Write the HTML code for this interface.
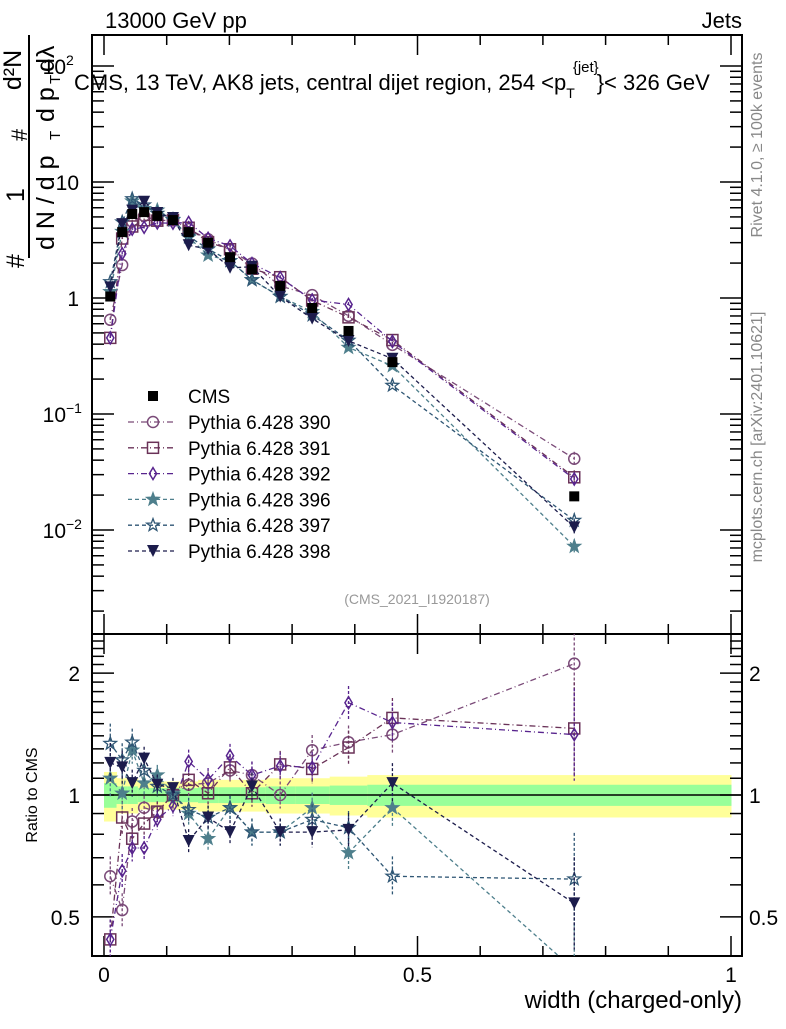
<!DOCTYPE html>
<html><head><meta charset="utf-8"><style>
body{margin:0;background:#fff;}
svg{font-family:"Liberation Sans",sans-serif;}
</style></head><body>
<svg id="c" width="786" height="1024" xmlns="http://www.w3.org/2000/svg"></svg>
<script>
const xs=[0.01,0.029,0.045,0.064,0.085,0.11,0.135,0.166,0.201,0.236,0.281,0.332,0.39,0.46,0.75];
const cms=[1.03,3.7,5.3,5.5,5.1,4.7,3.7,3.0,2.25,1.77,1.27,0.82,0.52,0.28,0.0195];
const cmsErr=[0.07,0.05,0.05,0.04,0.04,0.04,0.04,0.045,0.045,0.045,0.05,0.05,0.055,0.06,0.06];
const r390=[0.63,0.52,0.86,0.93,0.91,1.0,1.06,1.07,1.15,1.12,1.0,1.29,1.35,1.41,2.11];
const r391=[0.44,0.88,0.78,0.85,0.91,1.0,1.09,1.01,1.17,1.01,1.19,1.16,1.31,1.55,1.46];
const r392=[0.44,0.65,0.74,0.74,0.87,0.94,1.21,1.09,1.25,1.12,1.18,1.17,1.69,1.51,1.41];
const r396=[1.1,1.01,1.29,1.07,1.12,1.01,0.90,0.78,0.93,0.81,0.81,0.93,0.72,0.93,0.37];
const r397=[1.34,1.22,1.35,1.15,1.05,1.0,0.92,0.88,0.93,0.81,0.81,0.87,0.83,0.63,0.62];
const r398=[1.2,1.17,1.07,1.23,1.06,1.04,0.77,0.88,0.81,1.05,0.81,0.81,0.82,1.07,0.54];
const rErr=[0.12,0.1,0.08,0.07,0.06,0.06,0.07,0.07,0.07,0.08,0.08,0.09,0.1,0.12,0.3];
const series=[
 {n:'390',r:r390,c:'#7a4a78',m:'circle',d:'6,3,1,3'},
 {n:'391',r:r391,c:'#6a3258',m:'square',d:'6,3,1,3'},
 {n:'392',r:r392,c:'#58248e',m:'diamond',d:'6,3,1,3'},
 {n:'396',r:r396,c:'#4e7f8c',m:'starF',d:'4,3'},
 {n:'397',r:r397,c:'#2f5674',m:'starO',d:'4,3'},
 {n:'398',r:r398,c:'#1c1c4c',m:'tri',d:'4,3'}];
const svg=document.getElementById('c');const NS='http://www.w3.org/2000/svg';
function el(t,a,p){const e=document.createElementNS(NS,t);for(const k in a)e.setAttribute(k,a[k]);(p||svg).appendChild(e);return e;}
const X=v=>104+v*627;
const Y=v=>298-Math.log10(v)*116;
const R=v=>795-Math.log10(v)*405;
const L=92,Rt=742,T=35,M=634,B=956;
const defs=el('defs',{});
const cp1=el('clipPath',{id:'cm'},defs);el('rect',{x:L,y:T,width:Rt-L,height:M-T},cp1);
const cp2=el('clipPath',{id:'cr'},defs);el('rect',{x:L,y:M,width:Rt-L,height:B-M},cp2);
const gb=el('g',{'clip-path':'url(#cr)'});

const edges=[0,0.02,0.038,0.054,0.074,0.096,0.122,0.15,0.183,0.218,0.258,0.305,0.36,0.42,0.5,1.0];
for(let i=0;i<xs.length;i++){const x0=X(edges[i]),x1=X(edges[i+1]);const e=cmsErr[i];
 el('rect',{x:x0,y:R(1+e*2),width:x1-x0+0.5,height:R(1-e*2)-R(1+e*2),fill:'#ffff99'},gb);
 el('rect',{x:x0,y:R(1+e),width:x1-x0+0.5,height:R(1-e)-R(1+e),fill:'#99ff99'},gb);}
el('line',{x1:L,x2:Rt,y1:R(1),y2:R(1),stroke:'#000','stroke-width':1.5});
el('rect',{x:L,y:T,width:Rt-L,height:M-T,fill:'none',stroke:'#000','stroke-width':2});
el('rect',{x:L,y:M,width:Rt-L,height:B-M,fill:'none',stroke:'#000','stroke-width':2});
for(let d=-3;d<=2;d++)for(let k=1;k<10;k++){const v=k*Math.pow(10,d);const y=Y(v);if(y<T||y>M)continue;const len=k==1?22:12;
 el('line',{x1:L,x2:L+len,y1:y,y2:y,stroke:'#000','stroke-width':1.5});el('line',{x1:Rt,x2:Rt-len,y1:y,y2:y,stroke:'#000','stroke-width':1.5});}
const ylabs=[[100,'10','2'],[10,'10',''],[1,'1',''],[0.1,'10','−1'],[0.01,'10','−2']];
ylabs.forEach(l=>{const t=el('text',{x:l[2]?66:79,y:Y(l[0])+8,'text-anchor':'end','font-size':21});t.textContent=l[1];
 
 if(l[2]){const s=el('text',{x:66,y:Y(l[0])-1,'font-size':14});s.textContent=l[2];}});
for(let v=0.4;v<=2.5;v+=0.1){const y=R(v);if(y<M||y>B)continue;const maj=Math.abs(v-0.5)<1e-6||Math.abs(v-1)<1e-6||Math.abs(v-2)<1e-6;const len=maj?22:12;
 el('line',{x1:L,x2:L+len,y1:y,y2:y,stroke:'#000','stroke-width':1.5});el('line',{x1:Rt,x2:Rt-len,y1:y,y2:y,stroke:'#000','stroke-width':1.5});}
[[2,'2'],[1,'1'],[0.5,'0.5']].forEach(l=>{let t=el('text',{x:80,y:R(l[0])+8,'text-anchor':'end','font-size':21});t.textContent=l[1];
 t=el('text',{x:749,y:R(l[0])+8,'font-size':21});t.textContent=l[1];});
for(let i=0;i<=10;i++){const x=X(i/10);const len=i%5==0?20:10;
 [[T,1],[M,1],[M,-1],[B,-1]].forEach(p=>el('line',{x1:x,x2:x,y1:p[0],y2:p[0]+p[1]*len,stroke:'#000','stroke-width':1.5}));}
[[0,'0'],[0.5,'0.5'],[1,'1']].forEach(l=>{const t=el('text',{x:X(l[0]),y:982,'text-anchor':'middle','font-size':21});t.textContent=l[1];
 });
function marker(g,type,x,y,c,s){s=s||6;
 if(type=='circle')el('circle',{cx:x,cy:y,r:s-0.5,fill:'none',stroke:c,'stroke-width':1.5},g);
 else if(type=='square')el('rect',{x:x-s+0.5,y:y-s+0.5,width:2*s-1,height:2*s-1,fill:'none',stroke:c,'stroke-width':1.5},g);
 else if(type=='sqF')el('rect',{x:x-s,y:y-s,width:2*s,height:2*s,fill:c},g);
 else if(type=='diamond')el('polygon',{points:`${x},${y-s} ${x+s*0.6},${y} ${x},${y+s} ${x-s*0.6},${y}`,fill:'none',stroke:c,'stroke-width':1.5},g);
 else if(type=='tri')el('polygon',{points:`${x-s},${y-s} ${x+s},${y-s} ${x},${y+s}`,fill:c},g);
 else{let p=[];for(let i=0;i<10;i++){const a=-Math.PI/2+i*Math.PI/5;const rr=i%2?s*0.45:s*1.1;p.push((x+rr*Math.cos(a)).toFixed(1)+','+(y+rr*Math.sin(a)).toFixed(1));}
  el('polygon',{points:p.join(' '),fill:type=='starF'?c:'none',stroke:c,'stroke-width':1.3},g);}}
series.forEach(s=>{
 const gm=el('g',{'clip-path':'url(#cm)'});
 const gr=el('g',{'clip-path':'url(#cr)'});
 const pm=xs.map((x,i)=>X(x)+','+Y(cms[i]*s.r[i]).toFixed(1)).join(' ');
 const pr=xs.map((x,i)=>X(x)+','+R(s.r[i]).toFixed(1)).join(' ');
 el('polyline',{points:pm,fill:'none',stroke:s.c,'stroke-width':1.3,'stroke-dasharray':s.d},gm);
 el('polyline',{points:pr,fill:'none',stroke:s.c,'stroke-width':1.3,'stroke-dasharray':s.d},gr);
 xs.forEach((x,i)=>{const v=cms[i]*s.r[i];
  el('line',{x1:X(x),x2:X(x),y1:Y(v*(1+rErr[i]*0.5)),y2:Y(v/(1+rErr[i]*0.5)),stroke:s.c,'stroke-width':1.3,'stroke-dasharray':'3,2'},gm);
  el('line',{x1:X(x),x2:X(x),y1:R(s.r[i]*(1+rErr[i])),y2:R(s.r[i]/(1+rErr[i])),stroke:s.c,'stroke-width':1.3,'stroke-dasharray':'3,2'},gr);
  marker(gm,s.m,X(x),Y(v),s.c,6);marker(gr,s.m,X(x),R(s.r[i]),s.c,6);});
});
const gc=el('g',{'clip-path':'url(#cm)'});
xs.forEach((x,i)=>{marker(gc,'sqF',X(x),Y(cms[i]),'#000',5);});
const leg=el('g',{});
marker(leg,'sqF',153,396,'#000',5);
let t=el('text',{x:188,y:403,'font-size':19},leg);t.textContent='CMS';
series.forEach((s,i)=>{const y=422+i*25.8;
 const e=el('g',{},leg);
 el('line',{x1:128,x2:176,y1:y,y2:y,stroke:s.c,'stroke-width':1.3,'stroke-dasharray':s.d},e);
 marker(e,s.m,153,y,s.c,6);
 const tt=el('text',{x:188,y:y+7,'font-size':19},e);tt.textContent='Pythia 6.428 '+s.n;});
function txt(x,y,s,size,name,extra){const a=Object.assign({x:x,y:y,'font-size':size},extra||{});const e=el('text',a);e.textContent=s;return e;}
txt(105,28,'13000 GeV pp',22,'energy-label');
txt(742,28,'Jets',22,'jets-label',{'text-anchor':'end'});
const title=el('text',{x:74,y:90,'font-size':22});
el('tspan',{},title).textContent='CMS, 13 TeV, AK8 jets, central dijet region, 254 <p';
el('tspan',{'font-size':14,dy:8},title).textContent='T';
el('tspan',{'font-size':15,dy:-26,dx:-2},title).textContent='{jet}';
el('tspan',{dy:18,dx:-2},title).textContent='}< 326 GeV';
txt(417,604,'(CMS_2021_I1920187)',14,'analysis-id',{'text-anchor':'middle',fill:'#999'});
txt(742,1008,'width (charged-only)',24,'x-axis-title',{'text-anchor':'end'});
txt(0,0,'Ratio to CMS',16,'ratio-axis-title',{transform:'translate(37,795) rotate(-90)','text-anchor':'middle'});
txt(0,0,'Rivet 4.1.0, ≥ 100k events',16,'rivet-label',{transform:'translate(762,145) rotate(-90)','text-anchor':'middle',fill:'#888'});
txt(0,0,'mcplots.cern.ch [arXiv:2401.10621]',16,'mcplots-label',{transform:'translate(762,437) rotate(-90)','text-anchor':'middle',fill:'#888'});
const yt=el('g',{});
function rt(x,y,s,size,anchor){const e=el('text',{x:0,y:0,'font-size':size,'text-anchor':anchor||'start',transform:`translate(${x},${y}) rotate(-90)`},yt);e.textContent=s;return e;}
rt(24,268,'#',25);
rt(24,195,'1',25,'middle');
rt(27,135,'#',22,'middle');
rt(21,70,'d²N',25,'middle');
el('line',{x1:29,x2:29,y1:35,y2:258,stroke:'#000','stroke-width':2},yt);
rt(54,250,'d N / d p',25);
rt(60,140,'T',15);
rt(54,122,'d p',25);
rt(60,84,'T',15);
rt(54,72,'dλ',25);
</script>
</body></html>
